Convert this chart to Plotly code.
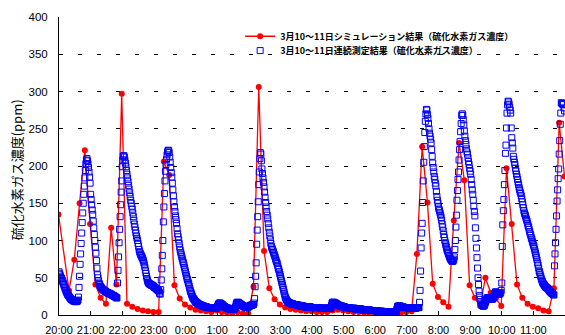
import plotly.graph_objects as go

# Time axis: minutes after 20:00 on 3/10 (0 = 20:00, 960 = 12:00 next day)
hour_ticks = [0, 60, 120, 180, 240, 300, 360, 420, 480, 540, 600, 660, 720, 780, 840, 900]
hour_labels = ["20:00", "21:00", "22:00", "23:00", "0:00", "1:00", "2:00", "3:00",
               "4:00", "5:00", "6:00", "7:00", "8:00", "9:00", "10:00", "11:00"]

# Simulation result: sample times (minutes after 20:00) and concentrations
sim_minutes = [
    -11, -1, 19, 29, 39, 49, 59, 69, 79, 89, 99, 109, 119,
    129, 139, 149, 159, 169, 179, 189, 199, 209, 219, 229, 239, 249, 259, 269, 279, 289,
    299, 309, 319, 329, 339, 349, 359, 369, 379, 389, 399, 409, 419, 429, 439, 449, 459, 469,
    479, 489, 499, 509, 519, 529, 539, 549, 559, 569, 579, 589, 599, 609, 619, 629, 639, 649, 659, 669,
    679, 689, 699, 709, 719, 729, 739, 749, 759, 769, 779, 789, 799, 809,
    819, 829, 839, 849, 859, 869, 879, 889, 899, 909, 919, 929, 939, 949, 959,
]
sim_ppm = [
    20, 135, 33, 74, 150, 221, 122, 41, 23, 15, 117, 41, 297,
    15, 11, 8, 6, 5, 4, 4, 206, 188, 40, 22, 14, 10, 7, 6, 5, 4,
    6, 4, 3, 3, 4, 2, 2, 38, 306, 86, 36, 21, 14, 10, 8, 7, 6, 5,
    5, 4, 4, 4, 6, 7, 6, 5, 4, 4, 3, 3, 3, 2, 2, 2, 2, 3, 4, 5,
    82, 226, 151, 42, 24, 17, 11, 127, 231, 181, 40, 23, 12, 50,
    30, 22, 12, 197, 122, 41, 23, 15, 11, 9, 6, 5, 36, 258, 186,
]

# Continuous measurement, one value per minute from 20:00
meas_ppm = [
    # 20:00
    58, 56, 54, 52, 50, 49, 47, 45, 43, 41, 39, 37, 35, 33, 31, 30, 28, 27, 26, 25,
    24, 23, 22, 21, 21, 20, 20, 19, 19, 19, 18, 18, 18, 19, 18, 19, 20, 24, 37, 52,
    68, 82, 96, 110, 124, 137, 150, 162, 173, 184, 194, 203, 208, 210, 207, 203, 198, 192, 185, 177,
    # 21:00
    162, 155, 148, 141, 135, 126, 117, 108, 100, 91, 83, 73, 63, 54, 50, 46, 43, 41, 39, 38,
    37, 36, 35, 34, 34, 33, 33, 32, 32, 31, 31, 30, 30, 30, 29, 29, 29, 28, 28, 28,
    27, 27, 26, 26, 26, 25, 25, 24, 24, 23, 23, 43, 60, 78, 97, 115, 132, 148, 165, 180,
    # 22:00
    199, 208, 213, 214, 212, 208, 204, 199, 194, 189, 184, 179, 174, 169, 164, 159, 154, 150, 146, 142,
    137, 132, 127, 122, 118, 114, 110, 106, 103, 100, 96, 92, 88, 85, 83, 81, 80, 78, 77, 75,
    73, 70, 67, 64, 60, 56, 52, 49, 46, 44, 43, 42, 42, 41, 41, 40, 40, 40, 39, 39,
    # 23:00
    38, 37, 37, 36, 36, 35, 34, 34, 33, 33, 31, 29, 28, 34, 47, 62, 80, 100, 125, 145,
    163, 180, 193, 202, 209, 215, 219, 221, 221, 218, 212, 205, 198, 191, 185, 177, 168, 160, 152, 145,
    139, 133, 128, 123, 116, 109, 105, 101, 96, 91, 87, 84, 81, 78, 75, 72, 70, 67, 64, 61,
    # 0:00
    58, 55, 52, 49, 47, 44, 42, 39, 36, 33, 31, 29, 27, 25, 23, 22, 21, 20, 19, 18,
    17, 17, 16, 16, 15, 15, 14, 14, 14, 13, 13, 13, 12, 12, 12, 12, 11, 11, 11, 11,
    11, 10, 10, 10, 10, 10, 10, 10, 10, 10, 9, 9, 9, 9, 9, 9, 9, 9, 9, 9,
    # 1:00
    10, 12, 14, 15, 16, 16, 16, 15, 15, 14, 14, 13, 12, 12, 11, 11, 10, 10, 10, 9,
    9, 9, 9, 8, 8, 8, 8, 8, 8, 8, 8, 8, 8, 8, 9, 11, 14, 16, 17, 17,
    17, 16, 16, 15, 15, 14, 14, 13, 13, 12, 12, 11, 11, 11, 10, 10, 10, 10, 10, 11,
    # 2:00
    11, 12, 12, 13, 13, 13, 13, 14, 14, 14, 16, 22, 38, 52, 70, 95, 114, 132, 152, 175,
    192, 210, 218, 216, 207, 196, 190, 184, 178, 172, 165, 158, 151, 145, 139, 134, 129, 123, 117, 111,
    106, 101, 96, 92, 90, 88, 86, 84, 82, 80, 78, 75, 73, 71, 69, 66, 63, 61, 58, 55,
    # 3:00
    52, 49, 46, 43, 40, 37, 34, 31, 28, 25, 23, 21, 20, 19, 18, 17, 17, 16, 16, 16,
    15, 15, 15, 15, 15, 14, 14, 14, 14, 14, 14, 14, 13, 13, 13, 13, 13, 12, 12, 12,
    12, 12, 12, 12, 12, 11, 11, 11, 11, 11, 11, 11, 11, 11, 11, 11, 11, 11, 10, 10,
    # 4:00
    10, 10, 10, 10, 10, 10, 10, 10, 10, 10, 10, 10, 10, 10, 10, 9, 9, 9, 9, 9,
    9, 9, 9, 9, 9, 9, 9, 9, 9, 9, 9, 9, 9, 9, 9, 9, 10, 13, 16, 17,
    17, 17, 17, 16, 16, 16, 15, 15, 14, 14, 13, 13, 13, 12, 12, 12, 12, 12, 11, 11,
    # 5:00
    11, 11, 11, 10, 10, 10, 10, 10, 10, 10, 10, 10, 9, 9, 9, 9, 9, 9, 9, 9,
    9, 9, 8, 8, 8, 8, 8, 8, 8, 8, 8, 8, 8, 8, 8, 7, 7, 7, 7, 7,
    7, 7, 7, 7, 7, 7, 7, 7, 7, 7, 6, 6, 6, 6, 6, 6, 6, 6, 6, 6,
    # 6:00
    6, 6, 6, 5, 5, 5, 5, 5, 5, 5, 5, 5, 5, 5, 4, 4, 4, 4, 4, 4,
    4, 4, 4, 4, 4, 4, 4, 4, 4, 4, 4, 4, 4, 4, 4, 4, 4, 4, 4, 4,
    5, 8, 11, 12, 12, 12, 12, 12, 12, 11, 11, 11, 11, 11, 10, 10, 10, 10, 10, 10,
    # 7:00
    10, 10, 10, 10, 9, 9, 9, 9, 9, 9, 9, 9, 9, 9, 9, 9, 9, 9, 10, 10,
    10, 10, 10, 10, 17, 33, 59, 90, 110, 123, 151, 180, 205, 226, 245, 260, 270, 276, 275, 269,
    264, 257, 250, 244, 240, 236, 231, 222, 213, 204, 198, 192, 186, 182, 177, 173, 166, 159, 154, 150,
    # 8:00
    145, 142, 140, 137, 134, 131, 127, 122, 118, 113, 108, 104, 100, 97, 94, 91, 88, 86, 84, 82,
    80, 78, 76, 75, 74, 73, 72, 72, 73, 75, 78, 88, 100, 118, 134, 154, 167, 182, 192, 208,
    222, 233, 246, 257, 268, 270, 268, 262, 255, 247, 240, 234, 229, 223, 219, 216, 211, 206, 202, 197,
    # 9:00
    193, 189, 182, 175, 168, 162, 154, 146, 139, 133, 117, 103, 90, 77, 63, 50, 41, 32, 26, 21,
    18, 16, 14, 13, 12, 12, 12, 13, 15, 17, 19, 21, 23, 23, 23, 23, 23, 23, 22, 22,
    22, 21, 21, 22, 23, 25, 27, 29, 31, 31, 30, 29, 28, 28, 28, 28, 28, 29, 30, 33,
    # 10:00
    43, 92, 121, 140, 155, 175, 194, 217, 228, 251, 271, 282, 287, 286, 283, 279, 275, 271, 251, 238,
    231, 224, 213, 209, 205, 202, 197, 193, 189, 186, 182, 178, 175, 171, 168, 165, 163, 160, 156, 152,
    148, 144, 140, 137, 135, 133, 130, 128, 126, 123, 120, 118, 115, 112, 109, 107, 104, 102, 99, 97,
    # 11:00
    94, 92, 89, 86, 83, 80, 77, 74, 70, 67, 63, 59, 57, 54, 52, 49, 47, 45, 43, 42,
    41, 40, 39, 38, 37, 37, 36, 36, 35, 34, 33, 32, 31, 31, 30, 29, 29, 28, 27, 27,
    66, 82, 97, 115, 133, 153, 168, 183, 196, 216, 234, 256, 271, 285, 284, 283, 283, 283, 278, 274,
]
meas_minutes = list(range(len(meas_ppm)))

sim_name = "3月10～11日シミュレーション結果（硫化水素ガス濃度）"
meas_name = "3月10～11日連続測定結果（硫化水素ガス濃度）"
y_title = "硫化水素ガス濃度(ppm)"

fig = go.Figure()

fig.add_trace(go.Scatter(
    x=sim_minutes, y=sim_ppm, name=sim_name, mode="lines+markers",
    line=dict(color="#FF0000", width=1.3),
    marker=dict(symbol="circle", size=6, color="#FF0000"),
    legend="legend",
))

fig.add_trace(go.Scatter(
    x=meas_minutes, y=meas_ppm, name=meas_name, mode="markers",
    marker=dict(symbol="square-open", size=6, color="#0000FF", line=dict(width=1, color="#0000FF")),
    legend="legend2",
))

legend_font = dict(family="Noto Sans CJK JP", size=9, color="black", weight="bold")

fig.update_layout(
    width=565, height=335,
    margin=dict(l=59, r=0, t=17, b=20),
    paper_bgcolor="white", plot_bgcolor="white",
    showlegend=True,
    legend=dict(x=0.358, y=0.984, xanchor="left", yanchor="top",
                bgcolor="rgba(0,0,0,0)", borderwidth=0, font=legend_font,
                itemwidth=30, valign="middle"),
    legend2=dict(x=0.358, y=0.936, xanchor="left", yanchor="top",
                 bgcolor="rgba(0,0,0,0)", borderwidth=0, font=legend_font,
                 itemwidth=30, valign="middle"),
    xaxis=dict(
        range=[0, 960], tickmode="array", tickvals=hour_ticks, ticktext=hour_labels,
        showline=True, linecolor="black", linewidth=1,
        ticks="inside", ticklen=4, tickcolor="black",
        ticklabelstandoff=5,
        showgrid=False, zeroline=False,
        tickfont=dict(family="Liberation Sans", size=11, color="black"),
    ),
    yaxis=dict(
        range=[0, 400], tickmode="linear", tick0=0, dtick=50,
        showline=True, linecolor="black", linewidth=1, ticks="",
        ticklabelstandoff=8,
        showgrid=True, gridcolor="black", gridwidth=1, griddash="4px,15px",
        zeroline=False,
        tickfont=dict(family="Liberation Sans", size=11.5, color="black"),
    ),
    annotations=[dict(
        text=y_title, textangle=-90, showarrow=False,
        xref="paper", yref="paper", x=-0.084, y=0.487,
        xanchor="center", yanchor="middle",
        font=dict(family="Noto Sans CJK JP", size=13, color="black"),
    )],
)

fig.write_html("out.html", config={"displayModeBar": False})
